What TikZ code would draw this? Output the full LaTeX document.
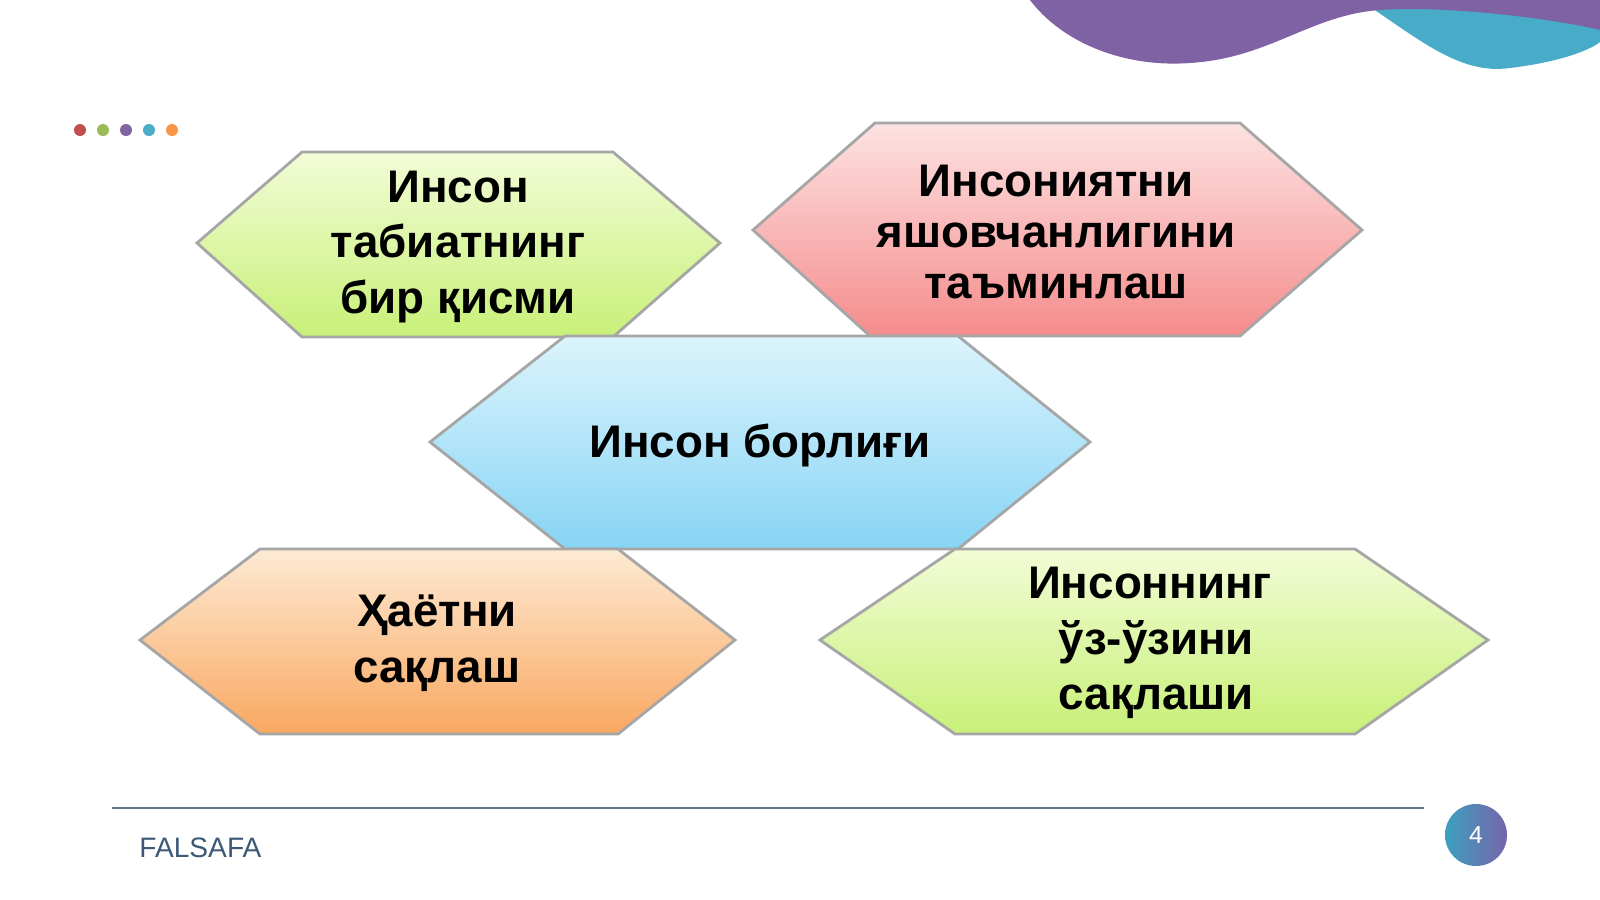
\documentclass[tikz,border=0pt]{standalone}
\usepackage{fontspec}
\setmainfont{Liberation Sans}
\begin{document}
\begin{tikzpicture}[x=0.01cm,y=-0.01cm,
 lbl/.style={font=\bfseries\fontsize{13pt}{15.8pt}\selectfont,align=center,text=black},
 lblb/.style={font=\bfseries\fontsize{13pt}{14.4pt}\selectfont,align=center,text=black},
 hexb/.style={draw=gray!70,line width=0.8pt}]
\useasboundingbox (0,0) rectangle (1600,899);
\fill[white] (0,0) rectangle (1600,899);
% waves
\fill[fill={rgb,255:red,72;green,172;blue,200}] (1360,0) .. controls (1420,40) and (1460,75) .. (1510,68) .. controls (1560,62) and (1590,50) .. (1600,42) -- (1600,0) -- cycle;
\fill[fill={rgb,255:red,126;green,98;blue,164}] (1030,0) .. controls (1060,40) and (1120,68) .. (1190,63) .. controls (1270,58) and (1310,15) .. (1380,10) .. controls (1450,5) and (1560,20) .. (1600,30) -- (1600,0) -- cycle;
% dots
\foreach \x/\c in {80/{rgb,255:red,192;green,80;blue,77},103/{rgb,255:red,155;green,187;blue,89},126/{rgb,255:red,128;green,100;blue,162},149/{rgb,255:red,75;green,172;blue,198},172/{rgb,255:red,247;green,150;blue,70}}
  \fill[fill=\c] (\x,130) circle (6);
% hexagons
\shade[top color={rgb,255:red,242;green,252;blue,214},bottom color={rgb,255:red,200;green,240;blue,120},hexb] (197,243) -- (302,152) -- (613,152) -- (720,243) -- (613,337) -- (302,337) -- cycle;
\shade[top color={rgb,255:red,253;green,226;blue,226},bottom color={rgb,255:red,245;green,140;blue,140},hexb] (753,230) -- (875,123) -- (1240,123) -- (1362,230) -- (1240,336) -- (870,336) -- cycle;
\shade[top color={rgb,255:red,220;green,244;blue,252},bottom color={rgb,255:red,135;green,212;blue,245},hexb] (430,442) -- (565,336) -- (958,336) -- (1090,442) -- (958,549) -- (565,549) -- cycle;
\shade[top color={rgb,255:red,253;green,234;blue,212},bottom color={rgb,255:red,249;green,168;blue,96},hexb] (140,640) -- (260,549) -- (618,549) -- (735,640) -- (618,734) -- (260,734) -- cycle;
\shade[top color={rgb,255:red,242;green,252;blue,214},bottom color={rgb,255:red,200;green,240;blue,120},hexb] (820,640) -- (955,549) -- (1355,549) -- (1488,640) -- (1355,734) -- (955,734) -- cycle;
\node[lbl] (a) at (458,247) {Инсон\\табиатнинг\\бир қисми};
\node[lblb] (b) at (1056,232) {Инсониятни\\яшовчанлигини\\таъминлаш};
\node[lbl] (c) at (760,445) {Инсон борлиғи};
\node[lbl] (d) at (437,643) {Ҳаётни\\сақлаш};
\node[lbl] (e) at (1150,643) {Инсоннинг\\\ ўз-ўзини\\\ сақлаши};
% footer
\draw[color={rgb,255:red,90;green,120;blue,144},line width=0.8pt] (112,808) -- (1424,808);
\node[anchor=west,font=\fontsize{8pt}{9pt}\selectfont,text={rgb,255:red,60;green,90;blue,120}] (f) at (127,848) {FALSAFA};
\shade[left color={rgb,255:red,60;green,160;blue,190},right color={rgb,255:red,120;green,100;blue,170}] (1476,835) circle (31);
\node[text=white,font=\fontsize{7pt}{8pt}\selectfont] (n) at (1476,835) {4};
\end{tikzpicture}
\end{document}
